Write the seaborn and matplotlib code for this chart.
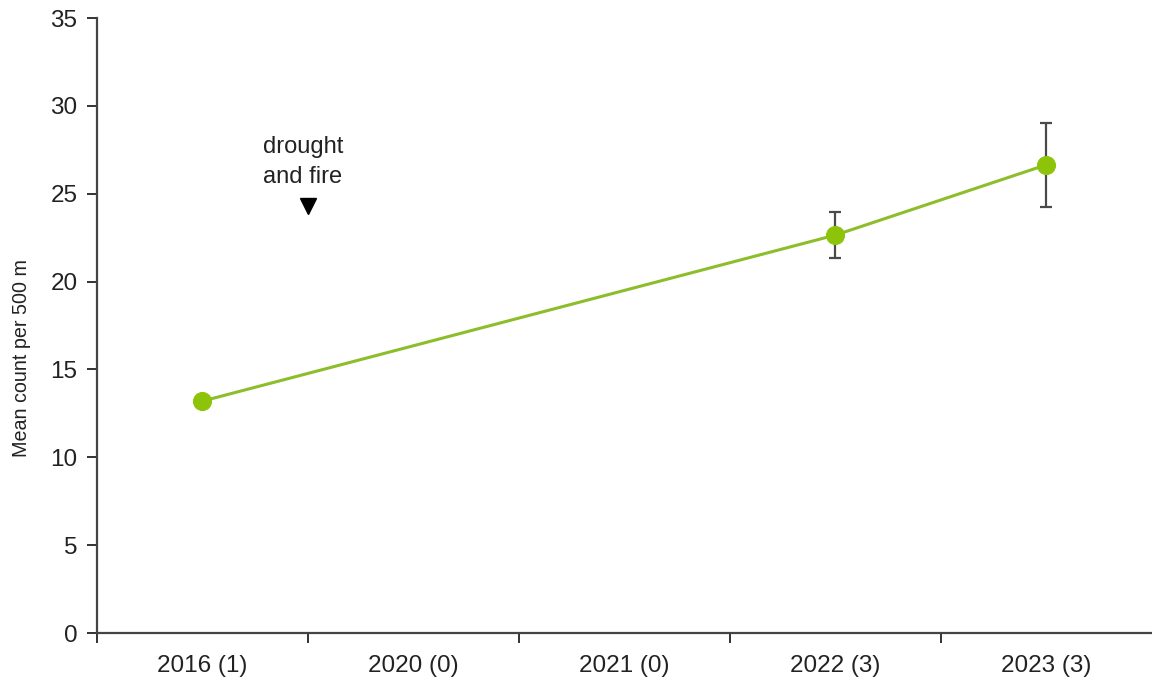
import numpy as np
import pandas as pd
import matplotlib
matplotlib.use("Agg")
import matplotlib.pyplot as plt
import seaborn as sns

# Survey years (number of transects in parentheses)
categories = ["2016 (1)", "2020 (0)", "2021 (0)", "2022 (3)", "2023 (3)"]
mean_count = [13.2, np.nan, np.nan, 22.65, 26.65]
std_error = [np.nan, np.nan, np.nan, 1.3, 2.4]

event_label = "drought\nand fire"
event_position = 0.5   # boundary between 2016 and 2020
event_marker_y = 24.3

sns.set_theme(style="white")
plt.rcParams["font.family"] = ["Liberation Sans", "DejaVu Sans"]

df = pd.DataFrame({"category": categories, "mean": mean_count, "se": std_error})
df["pos"] = np.arange(len(categories))
obs = df.dropna(subset=["mean"])

fig = plt.figure(figsize=(11.52, 6.88), dpi=100)
ax = fig.add_axes([0.0842, 0.0799, 0.9158, 0.8939])

line_green = "#8cbd2a"
dot_green = "#8dc40a"
bar_grey = "#4a4a4a"

sns.lineplot(data=obs, x="pos", y="mean", ax=ax, color=line_green, linewidth=2.2,
             marker="o", markersize=13, markerfacecolor=dot_green,
             markeredgecolor=dot_green, zorder=3)

errs = obs.dropna(subset=["se"])
ax.errorbar(errs["pos"], errs["mean"], yerr=errs["se"], fmt="none",
            ecolor=bar_grey, elinewidth=1.6, capsize=4, capthick=1.6, zorder=2)

# Event marker
ax.plot([event_position], [event_marker_y], marker="v", color="black",
        markersize=12, linestyle="none", zorder=4)
ax.text(event_position - 0.025, event_marker_y + 1.0, event_label, ha="center",
        va="bottom", fontsize=17, linespacing=1.5, color="#222222")

ax.set_xlim(-0.5, len(categories) - 0.5)
ax.set_ylim(0, 35)
ax.set_yticks(np.arange(0, 36, 5))

# Ticks at category boundaries, labels at category centres
ax.set_xticks(np.arange(-0.5, len(categories) - 0.5, 1.0))
ax.set_xticklabels([])
ax.set_xticks(np.arange(len(categories)), minor=True)
ax.set_xticklabels(categories, minor=True)
ax.tick_params(axis="x", which="major", direction="out", length=7, width=1.4,
               color="#333333", bottom=True)
ax.tick_params(axis="x", which="minor", length=0, pad=16, labelsize=17.5,
               labelcolor="#222222")
ax.tick_params(axis="y", direction="out", length=7, width=1.4, color="#333333",
               left=True, pad=7, labelsize=17.5, labelcolor="#222222")

ax.set_xlabel("")
ax.set_ylabel("Mean count per 500 m", fontsize=14.2, color="#222222")
ax.yaxis.set_label_coords(-0.063, 0.447)

sns.despine(ax=ax)
for side in ("left", "bottom"):
    ax.spines[side].set_color("#444444")
    ax.spines[side].set_linewidth(1.6)

fig.savefig("out.png", dpi=100)
